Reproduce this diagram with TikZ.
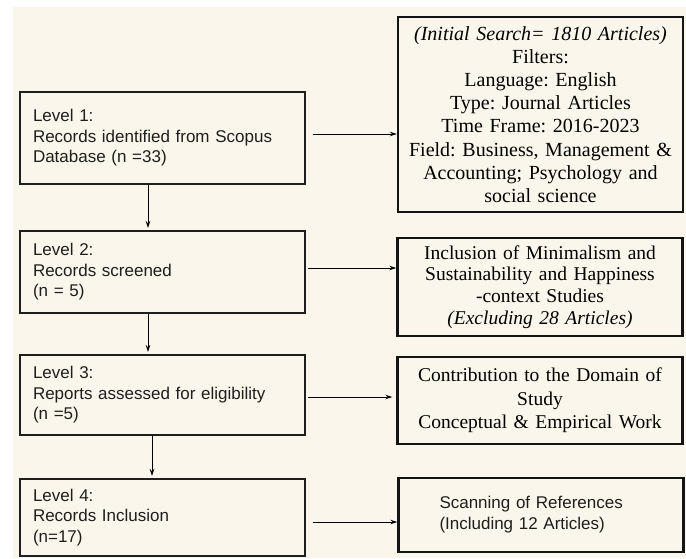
\documentclass[tikz,border=0pt]{standalone}
\usepackage{fontspec}
\setmainfont{Liberation Serif}
\setsansfont{Liberation Sans}
\usetikzlibrary{arrows.meta,calc}
\definecolor{paper}{RGB}{250,246,235}
\definecolor{ink}{RGB}{30,30,30}
\frenchspacing
\begin{document}
\begin{tikzpicture}[x=1pt,y=-1pt,
  levelbox/.style={draw=ink,line width=2pt,minimum width=285pt,inner xsep=13pt,inner ysep=0pt,
    text width=259pt,align=left,text=ink,font=\sffamily\fontsize{17}{20.5}\selectfont},
  notebox/.style={draw=black!92,line width=2.4pt,minimum width=285pt,inner sep=0pt,
    text width=285pt,align=center},
  flow/.style={line width=0.9pt,draw=black,-{Stealth[length=7pt,width=4.5pt]}}]

% canvas
\path[use as bounding box] (0,0) rectangle (686,558);
\fill[white] (0,0) rectangle (686,558);
\fill[paper] (13,7) rectangle (686,558);

% stages of the review
\node[levelbox,minimum height=92pt] (l1) at (162.5,138)
  {Level 1:\\Records identified from Scopus\\Database (n =33)};
\node[levelbox,minimum height=82pt] (l2) at (162.5,272)
  {Level 2:\\Records screened\\(n = 5)};
\node[levelbox,minimum height=80pt] (l3) at (162.5,395)
  {Level 3:\\Reports assessed for eligibility\\(n =5)};
\node[levelbox,minimum height=77pt] (l4) at (162.5,517.5)
  {Level 4:\\Records Inclusion\\(n=17)};

% criteria applied at each stage
\node[notebox,minimum height=195pt,font=\fontsize{20}{23.2}\selectfont] (r1) at (540.5,114.5)
  {\textit{(Initial Search= 1810 Articles)}\\Filters:\\Language: English\\Type: Journal Articles\\
   Time Frame: 2016-2023\\Field: Business, Management \&\\Accounting; Psychology and\\social science};
\node[notebox,minimum height=98pt,font=\fontsize{19.5}{21.7}\selectfont] (r2) at (540,287)
  {Inclusion of Minimalism and\\Sustainability and Happiness\\-context Studies\\
   \textit{(Excluding 28 Articles)}};
\node[notebox,minimum height=87pt,font=\fontsize{19.5}{23.4}\selectfont] (r3) at (540,400.5)
  {Contribution to the Domain of\\Study\\Conceptual \& Empirical Work};
\node[notebox,minimum height=74pt,text width=203pt,inner xsep=41pt,align=left,
  font=\sffamily\fontsize{17}{21}\selectfont,text=ink] (r4) at (541,515)
  {Scanning of References\\(Including 12 Articles)};

% flow down the stages
\draw[flow,shorten >=2pt] ([xshift=-14.5pt]l1.south) -- ([xshift=-14.5pt]l2.north);
\draw[flow,shorten >=2pt] ([xshift=-14.5pt]l2.south) -- ([xshift=-14.5pt]l3.north);
\draw[flow,shorten >=2pt] ([xshift=-10.5pt]l3.south) -- ([xshift=-10.5pt]l4.north);

% stage to criteria
\draw[flow] ($(l1.east |- 0,134)+(7,0)$) -- (r1.west |- 0,134);
\draw[flow] ($(l2.east |- 0,268)+(2,0)$) -- (r2.west |- 0,268);
\draw[flow] ($(l3.east |- 0,397)+(2,0)$) -- ($(r3.west |- 0,397)+(-4,0)$);
\draw[flow] ($(l4.east |- 0,522)+(7,0)$) -- (r4.west |- 0,522);
\end{tikzpicture}
\end{document}
